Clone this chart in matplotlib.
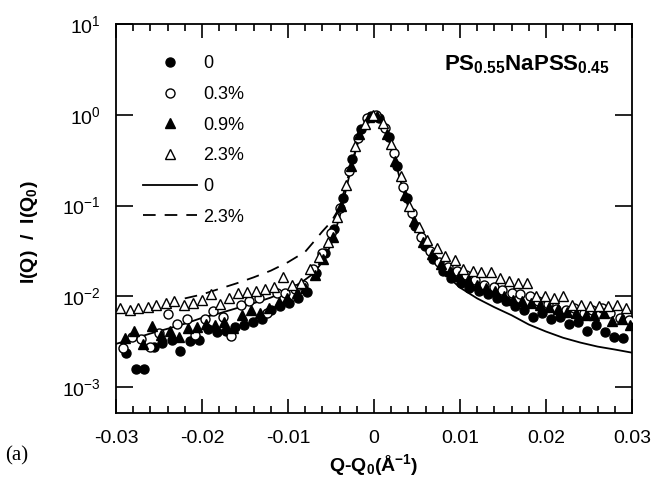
import numpy as np
import matplotlib
matplotlib.use("Agg")
import matplotlib.pyplot as plt
from matplotlib.ticker import FixedLocator, MultipleLocator, NullLocator
from matplotlib.lines import Line2D

plt.rcParams['font.family'] = ['Liberation Sans', 'DejaVu Sans']
plt.rcParams['mathtext.fontset'] = 'custom'
plt.rcParams['mathtext.rm'] = 'Liberation Sans'
plt.rcParams['mathtext.bf'] = 'Liberation Sans:bold'
plt.rcParams['mathtext.it'] = 'Liberation Sans:italic'

# Q - Q0 grid (A^-1), shared by all runs
q = [-0.0295, -0.0284, -0.0274, -0.0263, -0.0253, -0.0242, -0.0232, -0.0221,
     -0.0211, -0.0200, -0.0190, -0.0179, -0.0169, -0.0158, -0.0148, -0.0137,
     -0.0127, -0.0116, -0.0106, -0.0095, -0.0085, -0.0074, -0.0064, -0.0053,
     -0.0043, -0.0032, -0.0022, -0.0011, -0.0001, 0.0010, 0.0020, 0.0031,
     0.0041, 0.0052, 0.0062, 0.0073, 0.0083, 0.0094, 0.0104, 0.0115,
     0.0125, 0.0136, 0.0146, 0.0157, 0.0167, 0.0178, 0.0188, 0.0199,
     0.0209, 0.0220, 0.0230, 0.0241, 0.0251, 0.0262, 0.0272, 0.0283, 0.0293]
# small offset of each run's grid (Q0 read slightly differently)
q_shift = {'0': 0.0007, '0.3%': 0.0003, '0.9%': 0.0005, '2.3%': 0.0}

i_0 = [0.0024, 0.0016, 0.0016, 0.0028, 0.0031, 0.0033, 0.0025, 0.0032,
       0.0033, 0.0044, 0.0041, 0.0042, 0.0046, 0.0048, 0.0052, 0.0057,
       0.0070, 0.0078, 0.0084, 0.0096, 0.0112, 0.018, 0.030, 0.055,
       0.12, 0.33, 0.70, 0.98, 0.92, 0.57, 0.27, 0.12,
       0.060, 0.036, 0.026, 0.019, 0.016, 0.0140, 0.0125, 0.0115,
       0.0106, 0.0096, 0.0088, 0.0078, 0.0070, 0.0060, 0.0065, 0.0057,
       0.0060, 0.0050, 0.0052, 0.0042, 0.0048, 0.0041, 0.0036, 0.0035, np.nan]

i_03 = [0.0027, 0.0036, 0.0034, 0.0028, 0.0040, 0.0064, 0.0050, 0.0057,
        0.0038, 0.0057, 0.0069, 0.0060, 0.0037, 0.0080, 0.0088, 0.0095,
        0.0065, 0.0108, 0.0110, 0.0120, 0.0135, 0.020, 0.030, 0.050,
        0.095, 0.24, 0.56, 0.92, 1.0, 0.72, 0.38, 0.16,
        0.082, 0.045, 0.032, 0.024, 0.021, 0.019, 0.017, 0.015,
        0.0135, 0.0128, 0.0118, 0.0110, 0.0106, 0.0102, 0.0090, 0.0082,
        0.0072, 0.0070, 0.0075, 0.0066, 0.0070, 0.0074, 0.0066, 0.0058, 0.0055]

i_09 = [0.0035, 0.0042, 0.0030, 0.0047, 0.0038, 0.0042, 0.0036, 0.0045,
        0.0046, 0.0050, 0.0048, 0.0052, 0.0045, 0.0062, 0.0070, 0.0066,
        0.0075, 0.0086, 0.0095, 0.0108, 0.0125, 0.017, 0.026, 0.045,
        0.10, 0.27, 0.62, 0.95, 0.96, 0.62, 0.31, 0.13,
        0.068, 0.040, 0.029, 0.023, 0.019, 0.0168, 0.0152, 0.0135,
        0.0125, 0.0116, 0.0100, 0.0092, 0.0090, 0.0085, 0.0080, 0.0076,
        0.0072, 0.0068, 0.0066, 0.0062, 0.0063, 0.0065, 0.0053, 0.0056, 0.0048]

i_23 = [0.0074, 0.0071, 0.0074, 0.0077, 0.0081, 0.0084, 0.0090, 0.0081,
        0.0084, 0.0091, 0.0106, 0.0083, 0.0095, 0.0108, 0.0111, 0.0116,
        0.0122, 0.0128, 0.0162, 0.0135, 0.0139, 0.020, 0.027, 0.040,
        0.075, 0.17, 0.45, 0.80, 1.0, 0.82, 0.48, 0.21,
        0.098, 0.058, 0.042, 0.034, 0.028, 0.025, 0.020, 0.019,
        0.0188, 0.0186, 0.0158, 0.0147, 0.0139, 0.0139, 0.0101, 0.0102,
        0.0095, 0.0100, 0.0081, 0.0080, 0.0078, 0.0078, 0.0078, 0.0080, 0.0074]

# model curves
fit0_q = [-0.030, -0.028, -0.026, -0.024, -0.022, -0.020, -0.018, -0.016,
          -0.014, -0.012, -0.010, -0.009, -0.008, -0.007, -0.006, -0.005,
          -0.004, -0.003, -0.002, -0.001, 0.0, 0.001, 0.002, 0.003, 0.004,
          0.005, 0.006, 0.007, 0.008, 0.009, 0.010, 0.012, 0.014, 0.016,
          0.018, 0.020, 0.022, 0.024, 0.026, 0.028, 0.030]
fit0_i = [0.0030, 0.0034, 0.0039, 0.0044, 0.0050, 0.0058, 0.0065, 0.0074,
          0.0084, 0.0097, 0.0118, 0.0133, 0.0153, 0.018, 0.024, 0.037,
          0.075, 0.19, 0.45, 0.82, 1.0, 0.82, 0.45, 0.20, 0.095,
          0.055, 0.036, 0.026, 0.0195, 0.0152, 0.0125, 0.0095, 0.0076, 0.0062,
          0.0049, 0.0041, 0.0035, 0.0031, 0.0028, 0.0026, 0.0024]

fit23_q = [-0.022, -0.020, -0.018, -0.016, -0.014, -0.012, -0.010, -0.008,
           -0.007, -0.006, -0.005, -0.004, -0.003, -0.002, -0.001, 0.0]
fit23_i = [0.0095, 0.0105, 0.0121, 0.0139, 0.0162, 0.0192, 0.0238, 0.031,
           0.040, 0.052, 0.066, 0.095, 0.21, 0.46, 0.82, 1.0]

xtick_vals = [-0.03, -0.02, -0.01, 0.0, 0.01, 0.02, 0.03]
xtick_labels = ['-0.03', '-0.02', '-0.01', '0', '0.01', '0.02', '0.03']
ytick_vals = [1e-3, 1e-2, 1e-1, 1e0, 1e1]
ytick_labels = ['10$^{-3}$', '10$^{-2}$', '10$^{-1}$', '10$^{0}$', '10$^{1}$']

fig = plt.figure(figsize=(6.56, 4.82), dpi=100)
ax = fig.add_axes([0.1768, 0.1432, 0.7866, 0.807])

ax.plot(fit0_q, fit0_i, '-', color='black', lw=1.3, zorder=2)
ax.plot(fit23_q, fit23_i, '--', color='black', lw=1.3, dashes=(7, 5), zorder=2)

ms = 6.5
series = [('0', i_0, dict(marker='o', mfc='black', mec='black')),
          ('0.3%', i_03, dict(marker='o', mfc='white', mec='black')),
          ('0.9%', i_09, dict(marker='^', mfc='black', mec='black')),
          ('2.3%', i_23, dict(marker='^', mfc='white', mec='black'))]
for name, vals, st in series:
    qq = np.array(q) + q_shift[name]
    ax.plot(qq, vals, ls='none', ms=ms, mew=1.0, zorder=3, **st)

ax.set_yscale('log')
ax.set_xlim(-0.03, 0.03)
ax.set_ylim(5.2e-4, 10)

ax.xaxis.set_major_locator(FixedLocator(xtick_vals))
ax.set_xticklabels(xtick_labels)
ax.xaxis.set_minor_locator(MultipleLocator(0.002))
ax.yaxis.set_major_locator(FixedLocator(ytick_vals))
ax.set_yticklabels(ytick_labels)
ax.yaxis.set_minor_locator(NullLocator())
ax.tick_params(which='both', direction='in', top=True, right=True, width=1.2,
               labelsize=14)
ax.tick_params(which='major', length=10, pad=12)
ax.tick_params(which='minor', length=5)
ax.tick_params(axis='y', which='major', length=12, pad=11)
for s in ax.spines.values():
    s.set_linewidth(1.3)

ax.set_xlabel(r'Q-Q$_\mathbf{0}$(Å$^\mathbf{-1}$)', fontsize=14, fontweight='bold', labelpad=4)
ax.set_ylabel(r'I(Q)  /  I(Q$_\mathbf{0}$)', fontsize=14, fontweight='bold')
ax.yaxis.set_label_coords(-0.147, 0.465)

ax.text(0.957, 0.895, r'PS$_\mathbf{0.55}$NaPSS$_\mathbf{0.45}$', transform=ax.transAxes,
        ha='right', va='center', fontsize=16, fontweight='bold')

handles = [Line2D([], [], ls='none', ms=ms, **st) for _, _, st in series]
handles.append(Line2D([], [], color='black', lw=1.3))
handles.append(Line2D([], [], color='black', lw=1.3, ls='--', dashes=(7, 5)))
labels = ['0', '0.3%', '0.9%', '2.3%', '0', '2.3%']
ax.legend(handles, labels, loc='upper left', bbox_to_anchor=(0.053, 0.92),
          frameon=False, fontsize=13, handlelength=3.0, handletextpad=0.3,
          labelspacing=0.76, borderpad=0, borderaxespad=0)

fig.text(0.008, 0.045, '(a)', fontsize=15, family=['Liberation Serif', 'DejaVu Serif'])

fig.savefig('out.png', dpi=100)
